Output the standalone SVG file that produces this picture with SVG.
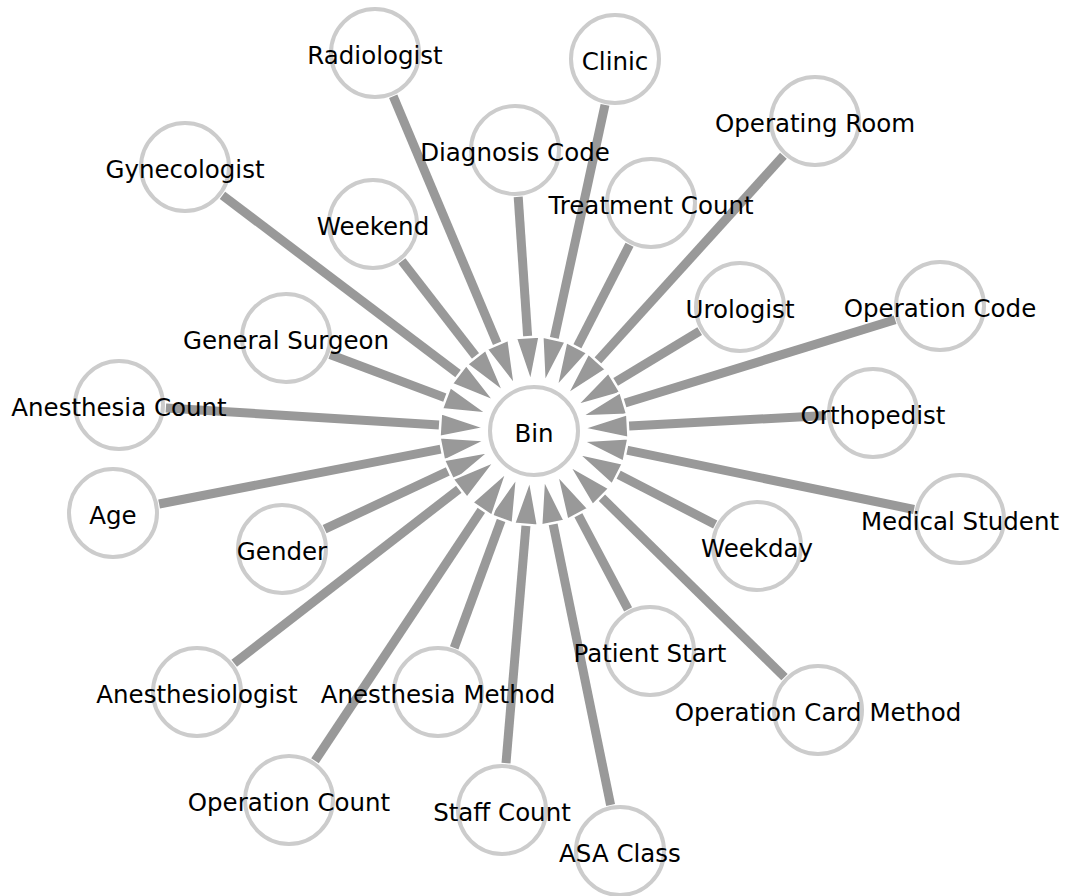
<svg xmlns="http://www.w3.org/2000/svg" width="1065" height="896" viewBox="0 0 1065 896">
<style>
.edge{stroke:#999;stroke-width:9;fill:none;marker-end:url(#ah)}
.node circle{fill:#fff;stroke:#ccc;stroke-width:4}
.node text{font-family:"DejaVu Sans",sans-serif;font-size:24.5px;fill:#000;text-anchor:middle}
</style>
<defs>
<marker id="ah" markerUnits="userSpaceOnUse" orient="auto" refX="0" refY="0" markerWidth="60" markerHeight="40" overflow="visible">
<path d="M-3,-12 L42,0 L-3,12 Z" fill="#999" stroke="#fff" stroke-width="2.5" stroke-linejoin="miter"/>
</marker>
</defs>
<rect width="1065" height="896" fill="#fff"/>
<g id="connectors">
<line class="edge" x1="393.2" y1="96.3" x2="498.7" y2="347.1"/>
<line class="edge" x1="605.0" y1="104.9" x2="553.4" y2="342.1"/>
<line class="edge" x1="518.2" y1="196.9" x2="527.9" y2="340.2"/>
<line class="edge" x1="783.4" y1="155.8" x2="595.1" y2="363.6"/>
<line class="edge" x1="222.5" y1="195.4" x2="461.4" y2="376.1"/>
<line class="edge" x1="401.9" y1="261.1" x2="478.1" y2="359.2"/>
<line class="edge" x1="629.5" y1="244.8" x2="575.5" y2="350.0"/>
<line class="edge" x1="699.7" y1="331.2" x2="612.0" y2="384.1"/>
<line class="edge" x1="895.1" y1="319.8" x2="621.0" y2="404.2"/>
<line class="edge" x1="330.0" y1="354.5" x2="448.8" y2="399.1"/>
<line class="edge" x1="165.9" y1="407.9" x2="443.2" y2="425.3"/>
<line class="edge" x1="826.1" y1="415.5" x2="624.9" y2="426.2"/>
<line class="edge" x1="159.1" y1="504.0" x2="444.7" y2="448.4"/>
<line class="edge" x1="324.6" y1="529.1" x2="451.6" y2="469.6"/>
<line class="edge" x1="914.0" y1="509.5" x2="623.1" y2="449.4"/>
<line class="edge" x1="715.2" y1="524.5" x2="614.9" y2="472.7"/>
<line class="edge" x1="628.1" y1="609.4" x2="576.4" y2="511.5"/>
<line class="edge" x1="234.2" y1="663.2" x2="462.1" y2="486.7"/>
<line class="edge" x1="454.2" y1="647.9" x2="502.6" y2="516.4"/>
<line class="edge" x1="784.5" y1="677.1" x2="598.9" y2="494.8"/>
<line class="edge" x1="315.0" y1="760.8" x2="483.7" y2="506.8"/>
<line class="edge" x1="506.0" y1="763.2" x2="526.3" y2="521.7"/>
<line class="edge" x1="610.6" y1="805.0" x2="552.3" y2="520.2"/>
</g>
<g id="bin" class="node"><circle cx="534" cy="431" r="44"/><text x="534" y="442">Bin</text></g>
<g id="radiologist" class="node"><circle cx="375" cy="53" r="44"/><text x="375" y="64">Radiologist</text></g>
<g id="clinic" class="node"><circle cx="615" cy="59" r="44"/><text x="615" y="70">Clinic</text></g>
<g id="diagnosis-code" class="node"><circle cx="515" cy="150" r="44"/><text x="515" y="161">Diagnosis Code</text></g>
<g id="operating-room" class="node"><circle cx="815" cy="121" r="44"/><text x="815" y="132">Operating Room</text></g>
<g id="gynecologist" class="node"><circle cx="185" cy="167" r="44"/><text x="185" y="178">Gynecologist</text></g>
<g id="weekend" class="node"><circle cx="373" cy="224" r="44"/><text x="373" y="235">Weekend</text></g>
<g id="treatment-count" class="node"><circle cx="651" cy="203" r="44"/><text x="651" y="214">Treatment Count</text></g>
<g id="urologist" class="node"><circle cx="740" cy="307" r="44"/><text x="740" y="318">Urologist</text></g>
<g id="operation-code" class="node"><circle cx="940" cy="306" r="44"/><text x="940" y="317">Operation Code</text></g>
<g id="general-surgeon" class="node"><circle cx="286" cy="338" r="44"/><text x="286" y="349">General Surgeon</text></g>
<g id="anesthesia-count" class="node"><circle cx="119" cy="405" r="44"/><text x="119" y="416">Anesthesia Count</text></g>
<g id="orthopedist" class="node"><circle cx="873" cy="413" r="44"/><text x="873" y="424">Orthopedist</text></g>
<g id="age" class="node"><circle cx="113" cy="513" r="44"/><text x="113" y="524">Age</text></g>
<g id="gender" class="node"><circle cx="282" cy="549" r="44"/><text x="282" y="560">Gender</text></g>
<g id="medical-student" class="node"><circle cx="960" cy="519" r="44"/><text x="960" y="530">Medical Student</text></g>
<g id="weekday" class="node"><circle cx="757" cy="546" r="44"/><text x="757" y="557">Weekday</text></g>
<g id="patient-start" class="node"><circle cx="650" cy="651" r="44"/><text x="650" y="662">Patient Start</text></g>
<g id="anesthesiologist" class="node"><circle cx="197" cy="692" r="44"/><text x="197" y="703">Anesthesiologist</text></g>
<g id="anesthesia-method" class="node"><circle cx="438" cy="692" r="44"/><text x="438" y="703">Anesthesia Method</text></g>
<g id="operation-card-method" class="node"><circle cx="818" cy="710" r="44"/><text x="818" y="721">Operation Card Method</text></g>
<g id="operation-count" class="node"><circle cx="289" cy="800" r="44"/><text x="289" y="811">Operation Count</text></g>
<g id="staff-count" class="node"><circle cx="502" cy="810" r="44"/><text x="502" y="821">Staff Count</text></g>
<g id="asa-class" class="node"><circle cx="620" cy="851" r="44"/><text x="620" y="862">ASA Class</text></g>
</svg>
